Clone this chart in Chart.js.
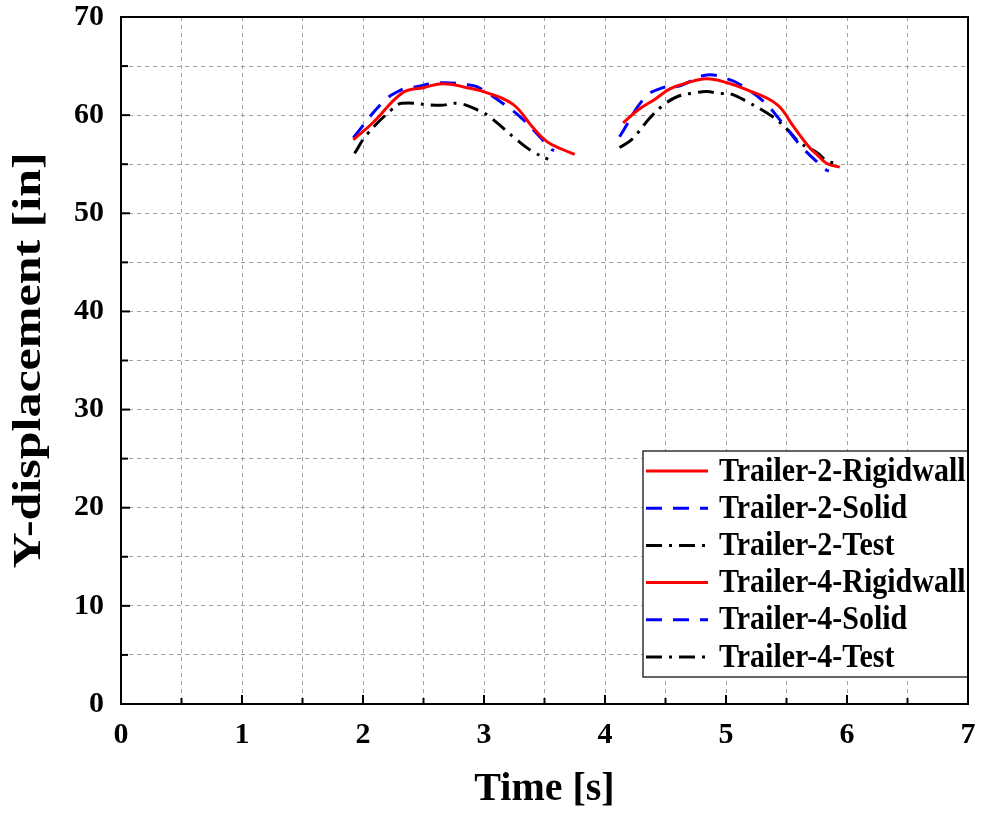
<!DOCTYPE html>
<html>
<head>
<meta charset="utf-8">
<script src="https://cdn.jsdelivr.net/npm/chart.js@4"></script>
<style>
  html, body { margin: 0; padding: 0; background: #fff; }
  #wrap { width: 985px; height: 817px; position: relative; }
</style>
</head>
<body>
<div id="wrap"><canvas id="chart"></canvas></div>
<script>
// ── Data ─────────────────────────────────────────────────────────────────────
const t2RigidT = [1.92, 2.08, 2.33, 2.50, 2.66, 2.86, 3.02, 3.24, 3.40, 3.52, 3.65, 3.75];
const t2RigidY = [57.5, 59.2, 62.3, 62.8, 63.2, 62.8, 62.3, 61.1, 58.8, 57.3, 56.5, 56.0];

const t2SolidT = [1.92, 2.17, 2.32, 2.40, 2.64, 2.86, 2.94, 3.11, 3.31, 3.56, 3.58];
const t2SolidY = [57.7, 61.4, 62.6, 62.8, 63.3, 63.1, 62.9, 61.6, 59.7, 56.5, 56.4];

const t2TestT = [1.93, 2.03, 2.24, 2.32, 2.64, 2.79, 2.97, 3.05, 3.27, 3.40, 3.53];
const t2TestY = [56.1, 58.0, 60.6, 61.2, 61.0, 61.2, 60.4, 59.8, 57.5, 56.3, 55.5];

const t4RigidT = [4.15, 4.27, 4.41, 4.54, 4.68, 4.84, 5.01, 5.17, 5.42, 5.56, 5.69, 5.75, 5.83, 5.94];
const t4RigidY = [59.2, 60.5, 61.6, 62.7, 63.3, 63.7, 63.3, 62.6, 61.1, 58.8, 56.7, 56.0, 55.1, 54.7];

const t4SolidT = [4.12, 4.33, 4.48, 4.62, 4.84, 5.01, 5.12, 5.31, 5.46, 5.63, 5.83, 5.85];
const t4SolidY = [57.8, 61.8, 62.8, 63.0, 64.1, 63.7, 63.1, 61.4, 59.3, 56.7, 54.4, 54.3];

const t4TestT = [4.12, 4.22, 4.37, 4.47, 4.60, 4.76, 4.84, 4.95, 5.03, 5.17, 5.39, 5.51, 5.61, 5.75, 5.84, 5.94];
const t4TestY = [56.7, 57.5, 59.7, 60.9, 61.9, 62.3, 62.4, 62.2, 62.2, 61.4, 59.8, 58.5, 57.2, 56.2, 55.3, 55.1];

const xTicks = [0, 1, 2, 3, 4, 5, 6, 7];
const yTicks = [0, 10, 20, 30, 40, 50, 60, 70];

const SERIF = "'Liberation Serif', 'DejaVu Serif', serif";
const DASH_SOLID = [];
const DASH_BLUE = [16, 11];
const DASH_TEST = [16, 7, 3, 7];

// ── Helpers ──────────────────────────────────────────────────────────────────
const pts = (xs, ys) => xs.map((x, i) => ({ x, y: ys[i] }));

function series(label, xs, ys, color, dash) {
  return {
    label, data: pts(xs, ys), borderColor: color, backgroundColor: color,
    borderDash: dash, borderWidth: 3, pointRadius: 0, tension: 0.4, fill: false
  };
}

// Frame, inward ticks, y title and the boxed legend
const decorPlugin = {
  id: 'decor',
  afterDraw(chart) {
    const { ctx, chartArea: a, scales: { x, y } } = chart;
    ctx.save();

    // legend box
    const bx = 643, by = 451, bw = a.right - 643, bh = 226, rowH = 37.2;
    ctx.fillStyle = '#fff';
    ctx.fillRect(bx, by, bw, bh);
    ctx.strokeStyle = '#333';
    ctx.lineWidth = 1.5;
    ctx.strokeRect(bx, by, bw, bh);
    chart.data.datasets.forEach((ds, i) => {
      const cy = by + 20 + i * rowH;
      ctx.beginPath();
      ctx.setLineDash(ds.borderDash);
      ctx.strokeStyle = ds.borderColor;
      ctx.lineWidth = 3;
      ctx.moveTo(646, cy);
      ctx.lineTo(708, cy);
      ctx.stroke();
      ctx.setLineDash([]);
      ctx.save();
      ctx.translate(719, cy + 1);
      ctx.scale(1, 1.12);
      ctx.fillStyle = '#000';
      ctx.font = `bold 30px ${SERIF}`;
      ctx.textBaseline = 'middle';
      ctx.textAlign = 'left';
      ctx.fillText(ds.label, 0, 0);
      ctx.restore();
    });

    // inward ticks
    ctx.strokeStyle = '#000';
    ctx.lineWidth = 2;
    for (let v = 0.5; v < 7; v += 0.5) {
      const px = x.getPixelForValue(v);
      const len = Number.isInteger(v) ? 9 : 6;
      ctx.beginPath();
      ctx.moveTo(px, a.bottom);
      ctx.lineTo(px, a.bottom - len);
      ctx.stroke();
    }
    for (let v = 5; v < 70; v += 5) {
      const py = y.getPixelForValue(v);
      const len = v % 10 === 0 ? 9 : 7;
      ctx.beginPath();
      ctx.moveTo(a.left, py);
      ctx.lineTo(a.left + len, py);
      ctx.stroke();
    }

    // frame
    ctx.lineWidth = 2;
    ctx.strokeRect(a.left, a.top, a.right - a.left, a.bottom - a.top);

    // y title, slightly condensed like the source figure
    ctx.translate(30, (a.top + a.bottom) / 2);
    ctx.scale(0.8, 1);
    ctx.rotate(-Math.PI / 2);
    ctx.fillStyle = '#000';
    ctx.font = `bold 50px ${SERIF}`;
    ctx.textAlign = 'center';
    ctx.textBaseline = 'middle';
    ctx.fillText('Y-displacement [in]', 0, 0);
    ctx.restore();
  }
};

const tickFont = { family: SERIF, weight: 'bold', size: 30 };

new Chart(document.getElementById('chart'), {
  type: 'line',
  data: {
    datasets: [
      series('Trailer-2-Rigidwall', t2RigidT, t2RigidY, '#ff0000', DASH_SOLID),
      series('Trailer-2-Solid', t2SolidT, t2SolidY, '#0000ff', DASH_BLUE),
      series('Trailer-2-Test', t2TestT, t2TestY, '#000000', DASH_TEST),
      series('Trailer-4-Rigidwall', t4RigidT, t4RigidY, '#ff0000', DASH_SOLID),
      series('Trailer-4-Solid', t4SolidT, t4SolidY, '#0000ff', DASH_BLUE),
      series('Trailer-4-Test', t4TestT, t4TestY, '#000000', DASH_TEST)
    ]
  },
  options: {
    responsive: true,
    maintainAspectRatio: false,
    animation: false,
    layout: { padding: 0 },
    plugins: { legend: { display: false }, tooltip: { enabled: false } },
    scales: {
      x: {
        type: 'linear', min: 0, max: 7,
        afterFit: s => { s.height = 113; s.paddingLeft = 0; s.paddingRight = 17; },
        ticks: {
          stepSize: 0.5, autoSkip: false, maxRotation: 0, padding: 13,
          color: '#000', font: tickFont,
          callback: v => xTicks.includes(v) ? String(v) : ''
        },
        grid: { color: '#a0a0a0', lineWidth: 1, drawTicks: false },
        border: { display: false, dash: [4, 4] },
        title: {
          display: true, text: 'Time [s]', color: '#000',
          font: { family: SERIF, weight: 'bold', size: 40 },
          padding: { top: 3, bottom: 3 }
        }
      },
      y: {
        type: 'linear', min: 0, max: 70,
        afterFit: s => { s.width = 121; s.paddingTop = 17; s.paddingBottom = 0; },
        ticks: {
          stepSize: 5, autoSkip: false, padding: 17,
          color: '#000', font: tickFont,
          callback: v => yTicks.includes(v) ? String(v) : ''
        },
        grid: { color: '#a0a0a0', lineWidth: 1, drawTicks: false },
        border: { display: false, dash: [4, 4] }
      }
    }
  },
  plugins: [decorPlugin]
});
</script>
</body>
</html>
